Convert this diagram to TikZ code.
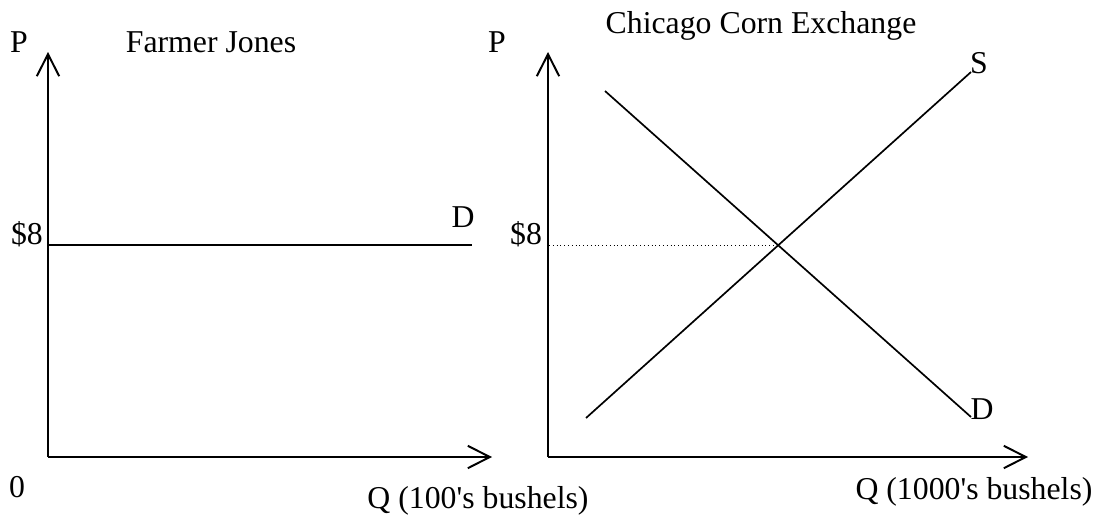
\documentclass[tikz,border=0pt]{standalone}
\usepackage{fontspec}
\setmainfont{Liberation Serif}[Ligatures=TeXOff]
\usetikzlibrary{arrows.meta}
\begin{document}
\begin{tikzpicture}[x=0.025cm, y=-0.025cm, font=\fontsize{22.6}{27}\selectfont]

    % Styles for axes, lines and labels
    \tikzset{
      axis/.style={line width=1.4pt, -{Straight Barb[length=0.55cm, width=0.56cm]}},
      curve/.style={line width=1.2pt},
      guide/.style={line width=0.7pt, dotted},
      lbl/.style={inner sep=0pt}
    }

    % Vertical positions (pixels from top)
    \def\ybase{457}  % Horizontal axes
    \def\ytop{52}    % Tips of the vertical axes
    \def\yprice{245} % Price level of $8

    \useasboundingbox (0,0) rectangle (1097,520);

    % --- Left panel: Farmer Jones ---
    \coordinate (o1) at (48, \ybase);
    \coordinate (p1) at (48, \ytop);
    \coordinate (q1) at (492, \ybase);
    \draw[axis] (o1) -- (p1);
    \draw[axis] (o1) -- (q1);

    \coordinate (d1a) at (48, \yprice);
    \coordinate (d1b) at (472, \yprice);
    \draw[curve] (d1a) -- (d1b);

    \node[lbl] (pl1) at (19, 42) {P};
    \node[lbl, anchor=base] (ttl1) at (211, 52) {Farmer Jones};
    \node[lbl] (pr1) at (27, 234) {\$8};
    \node[lbl] (dl1) at (463, 217) {D};
    \node[lbl] (zero) at (17, 487) {0};
    \node[lbl, anchor=base] (ql1) at (478, 508) {Q (100's bushels)};

    % --- Right panel: Chicago Corn Exchange ---
    \coordinate (o2) at (548, \ybase);
    \coordinate (p2) at (548, \ytop);
    \coordinate (q2) at (1028, \ybase);
    \draw[axis] (o2) -- (p2);
    \draw[axis] (o2) -- (q2);

    \coordinate (sa) at (586, 418);
    \coordinate (sb) at (971, 72);
    \coordinate (da) at (605, 91);
    \coordinate (db) at (971, 417);
    \draw[curve] (sa) -- (sb);
    \draw[curve] (da) -- (db);

    \coordinate (pax) at (549, \yprice);
    \coordinate (eq) at (778, \yprice);
    \draw[guide] (pax) -- (eq);

    \node[lbl] (pl2) at (497, 42) {P};
    \node[lbl, anchor=base] (ttl2) at (761, 33) {Chicago Corn Exchange};
    \node[lbl] (pr2) at (526, 234) {\$8};
    \node[lbl] (sl) at (979, 63) {S};
    \node[lbl] (dl2) at (982, 409) {D};
    \node[lbl, anchor=base] (ql2) at (974, 499) {Q (1000's bushels)};
\end{tikzpicture}
\end{document}
